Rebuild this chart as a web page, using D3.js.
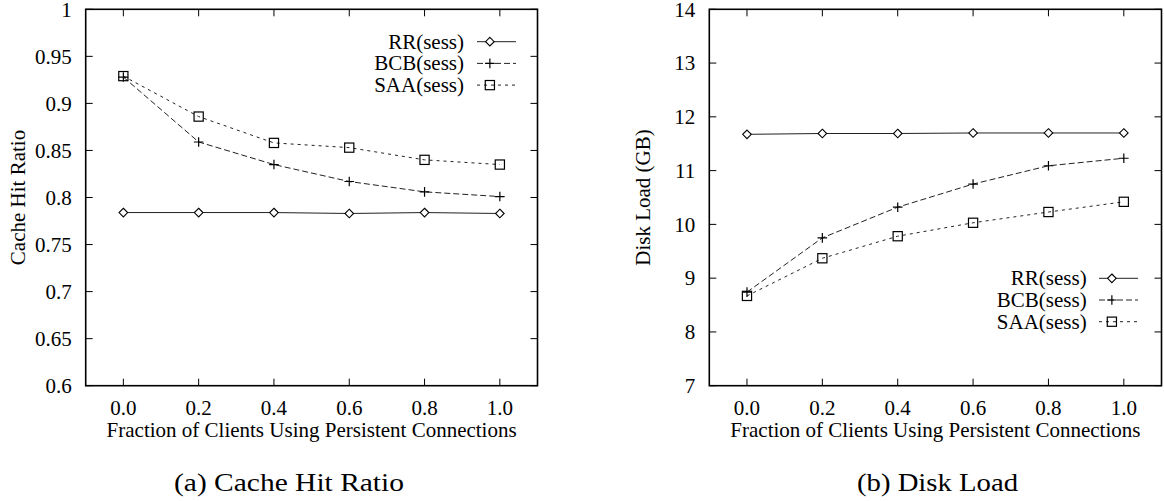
<!DOCTYPE html>
<html>
<head>
<meta charset="utf-8">
<script src="https://cdn.jsdelivr.net/npm/d3@7"></script>
<style>
  html, body { margin: 0; padding: 0; background: #fff; }
  svg { display: block; }
  text { font-family: "Liberation Serif", "Times New Roman", serif; fill: #000; }
</style>
</head>
<body>
<svg id="chart" width="1164" height="501"></svg>
<script>
// ---- data ----
const fractions = [0.0, 0.2, 0.4, 0.6, 0.8, 1.0];
const xTickLabels = ["0.0", "0.2", "0.4", "0.6", "0.8", "1.0"];
const seriesNames = ["RR(sess)", "BCB(sess)", "SAA(sess)"];

const hitRR  = [0.784, 0.784, 0.784, 0.783, 0.784, 0.783];
const hitBCB = [0.928, 0.859, 0.835, 0.817, 0.806, 0.801];
const hitSAA = [0.929, 0.886, 0.858, 0.853, 0.840, 0.835];
const hitTicks = [0.6, 0.65, 0.7, 0.75, 0.8, 0.85, 0.9, 0.95, 1];
const hitTickLabels = ["0.6", "0.65", "0.7", "0.75", "0.8", "0.85", "0.9", "0.95", "1"];

const diskRR  = [11.675, 11.69, 11.69, 11.70, 11.70, 11.70];
const diskBCB = [8.74, 9.75, 10.32, 10.75, 11.09, 11.23];
const diskSAA = [8.67, 9.37, 9.78, 10.03, 10.23, 10.42];
const diskTicks = [7, 8, 9, 10, 11, 12, 13, 14];
const diskTickLabels = ["7", "8", "9", "10", "11", "12", "13", "14"];

const xTitle = "Fraction of Clients Using Persistent Connections";

// ---- layout / style ----
const panels = [
  { series: [hitRR, hitBCB, hitSAA], yDomain: [0.6, 1], ticks: hitTicks, tickLabels: hitTickLabels,
    yTitle: "Cache Hit Ratio", caption: "(a) Cache Hit Ratio",
    x0: 85.7, x1: 537.5, yTitleX: 25, capX: 289, capLen: 230,
    legX: 464, legY: 41.7, legLineX0: 477, legLineX1: 516 },
  { series: [diskRR, diskBCB, diskSAA], yDomain: [7, 14], ticks: diskTicks, tickLabels: diskTickLabels,
    yTitle: "Disk Load (GB)", caption: "(b) Disk Load",
    x0: 709.3, x1: 1161.5, yTitleX: 650, capX: 937.5, capLen: 161,
    legX: 1086.7, legY: 278.3, legLineX0: 1099, legLineX1: 1138 }
];
const plotTop = 9.3, plotBottom = 385.7;
const styles = [
  { dash: null, marker: "diamond" },
  { dash: "6,3", marker: "plus" },
  { dash: "3,4", marker: "square" }
];
const lineColor = "#222";

const svg = d3.select("#chart");

function drawMarker(g, type, cx, cy) {
  if (type === "diamond") {
    const r = 4.3;
    g.append("path")
      .attr("d", `M${cx},${cy - r}L${cx + r},${cy}L${cx},${cy + r}L${cx - r},${cy}Z`)
      .attr("fill", "#fff").attr("stroke", "#000").attr("stroke-width", 1.1);
  } else if (type === "plus") {
    const r = 4.8;
    g.append("path")
      .attr("d", `M${cx - r},${cy}H${cx + r}M${cx},${cy - r}V${cy + r}`)
      .attr("stroke", "#000").attr("stroke-width", 1.2).attr("fill", "none");
  } else {
    const r = 4.6;
    g.append("rect")
      .attr("x", cx - r).attr("y", cy - r).attr("width", 2 * r).attr("height", 2 * r)
      .attr("fill", "none").attr("stroke", "#000").attr("stroke-width", 1.2);
  }
}

panels.forEach(p => {
  const x = d3.scaleLinear().domain([-0.1, 1.1]).range([p.x0, p.x1]);
  const y = d3.scaleLinear().domain(p.yDomain).range([plotBottom, plotTop]);
  const g = svg.append("g");

  // ticks on all four sides (inward)
  const tl = 7;
  const tickG = g.append("g").attr("stroke", "#000").attr("stroke-width", 1);
  fractions.forEach(f => {
    tickG.append("line").attr("x1", x(f)).attr("x2", x(f)).attr("y1", plotBottom).attr("y2", plotBottom - tl);
    tickG.append("line").attr("x1", x(f)).attr("x2", x(f)).attr("y1", plotTop).attr("y2", plotTop + tl);
  });
  p.ticks.forEach(t => {
    tickG.append("line").attr("x1", p.x0).attr("x2", p.x0 + tl).attr("y1", y(t)).attr("y2", y(t));
    tickG.append("line").attr("x1", p.x1).attr("x2", p.x1 - tl).attr("y1", y(t)).attr("y2", y(t));
  });

  // frame
  g.append("rect")
    .attr("x", p.x0).attr("y", plotTop).attr("width", p.x1 - p.x0).attr("height", plotBottom - plotTop)
    .attr("fill", "none").attr("stroke", "#000").attr("stroke-width", 1.6);

  // tick labels
  g.selectAll(".xl").data(fractions).enter().append("text")
    .attr("x", d => x(d)).attr("y", 415)
    .attr("text-anchor", "middle").attr("font-size", 21)
    .text((d, i) => xTickLabels[i]);
  g.selectAll(".yl").data(p.ticks).enter().append("text")
    .attr("x", p.x0 - 14).attr("y", d => y(d) + 7.3)
    .attr("text-anchor", "end").attr("font-size", 21)
    .text((d, i) => p.tickLabels[i]);

  // axis titles
  g.append("text")
    .attr("x", (p.x0 + p.x1) / 2).attr("y", 437)
    .attr("text-anchor", "middle").attr("font-size", 21)
    .text(xTitle);
  g.append("text")
    .attr("transform", `translate(${p.yTitleX},${(plotTop + plotBottom) / 2}) rotate(-90)`)
    .attr("text-anchor", "middle").attr("font-size", 21)
    .text(p.yTitle);

  // series
  const line = d3.line().x((d, i) => x(fractions[i])).y(d => y(d));
  p.series.forEach((vals, si) => {
    const st = styles[si];
    g.append("path").datum(vals)
      .attr("d", line)
      .attr("fill", "none").attr("stroke", lineColor).attr("stroke-width", 1)
      .attr("stroke-dasharray", st.dash);
  });
  p.series.forEach((vals, si) => {
    const st = styles[si];
    vals.forEach((v, i) => drawMarker(g, st.marker, x(fractions[i]), y(v)));
  });

  // legend
  seriesNames.forEach((name, si) => {
    const st = styles[si];
    const ly = p.legY + si * 21.7;
    g.append("text").attr("x", p.legX).attr("y", ly + 7)
      .attr("text-anchor", "end").attr("font-size", 21).text(name);
    g.append("line").attr("x1", p.legLineX0).attr("x2", p.legLineX1)
      .attr("y1", ly).attr("y2", ly)
      .attr("stroke", lineColor).attr("stroke-width", 1)
      .attr("stroke-dasharray", st.dash);
    drawMarker(g, st.marker, p.legLineX0 + (p.legLineX1 - p.legLineX0) * 0.33, ly);
  });

  // caption
  g.append("text")
    .attr("x", p.capX).attr("y", 491)
    .attr("text-anchor", "middle").attr("font-size", 25)
    .attr("textLength", p.capLen).attr("lengthAdjust", "spacingAndGlyphs")
    .text(p.caption);
});
</script>
</body>
</html>
